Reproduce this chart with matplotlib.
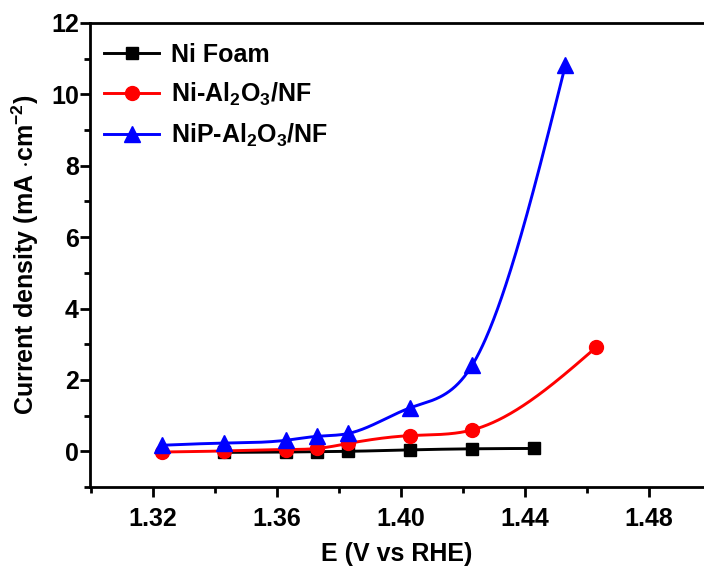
import numpy as np
import matplotlib
matplotlib.use("Agg")
import matplotlib.pyplot as plt
from matplotlib.ticker import MultipleLocator, FormatStrFormatter

plt.rcParams['font.family'] = ['Liberation Sans', 'DejaVu Sans']
plt.rcParams['font.weight'] = 'bold'
plt.rcParams['mathtext.fontset'] = 'custom'
plt.rcParams['mathtext.rm'] = 'Liberation Sans:bold'
plt.rcParams['mathtext.it'] = 'Liberation Sans:bold'
plt.rcParams['mathtext.bf'] = 'Liberation Sans:bold'
plt.rcParams['mathtext.default'] = 'rm'

# Polarization data (potential vs RHE, current density in mA/cm^2)
ni_foam_E = [1.343, 1.363, 1.373, 1.383, 1.403, 1.423, 1.443]
ni_foam_j = [-0.03, -0.02, -0.01, 0.00, 0.04, 0.07, 0.08]

ni_al2o3_E = [1.323, 1.343, 1.363, 1.373, 1.383, 1.403, 1.423, 1.463]
ni_al2o3_j = [-0.02, 0.01, 0.05, 0.08, 0.22, 0.44, 0.60, 2.92]

nip_al2o3_E = [1.323, 1.343, 1.363, 1.373, 1.383, 1.403, 1.423, 1.453]
nip_al2o3_j = [0.17, 0.23, 0.31, 0.42, 0.50, 1.22, 2.42, 10.82]

labels = ["Ni Foam", "Ni-Al$_2$O$_3$/NF", "NiP-Al$_2$O$_3$/NF"]
colors = ["black", "red", "blue"]
markers = ["s", "o", "^"]


def spline_curve(x, y, n=400):
    """Natural cubic spline through the data points."""
    x = np.asarray(x, float)
    y = np.asarray(y, float)
    m = len(x)
    h = np.diff(x)
    A = np.zeros((m, m))
    b = np.zeros(m)
    A[0, 0] = A[-1, -1] = 1.0
    for i in range(1, m - 1):
        A[i, i - 1] = h[i - 1]
        A[i, i] = 2 * (h[i - 1] + h[i])
        A[i, i + 1] = h[i]
        b[i] = 6 * ((y[i + 1] - y[i]) / h[i] - (y[i] - y[i - 1]) / h[i - 1])
    M = np.linalg.solve(A, b)
    xs = np.linspace(x[0], x[-1], n)
    idx = np.clip(np.searchsorted(x, xs) - 1, 0, m - 2)
    x0, x1 = x[idx], x[idx + 1]
    hh = x1 - x0
    t0, t1 = x1 - xs, xs - x0
    ys = (M[idx] * t0 ** 3 / (6 * hh) + M[idx + 1] * t1 ** 3 / (6 * hh)
          + (y[idx] / hh - M[idx] * hh / 6) * t0
          + (y[idx + 1] / hh - M[idx + 1] * hh / 6) * t1)
    return xs, ys


fig = plt.figure(figsize=(7.04, 5.74), dpi=100)
ax = fig.add_axes([90 / 704, 87 / 574, 614 / 704, 464 / 574])

series = [(ni_foam_E, ni_foam_j), (ni_al2o3_E, ni_al2o3_j), (nip_al2o3_E, nip_al2o3_j)]
msizes = [9, 10, 11]
for (E, j), lab, c, mk, ms in zip(series, labels, colors, markers, msizes):
    xs, ys = spline_curve(E, j)
    ax.plot(xs, ys, color=c, lw=2.1, zorder=2)
    ax.plot(E, j, linestyle='none', marker=mk, color=c, ms=ms, zorder=3)
    ax.plot([], [], color=c, lw=2.1, marker=mk, ms=ms, label=lab)

ax.set_xlim(1.2997, 1.4977)
ax.set_ylim(-1, 12)
ax.set_xticks([1.32, 1.36, 1.40, 1.44, 1.48])
ax.xaxis.set_minor_locator(MultipleLocator(0.02))
ax.xaxis.set_major_formatter(FormatStrFormatter('%.2f'))
ax.yaxis.set_major_locator(MultipleLocator(2))
ax.yaxis.set_minor_locator(MultipleLocator(1))

ax.spines['right'].set_visible(False)
for s in ['left', 'bottom', 'top']:
    ax.spines[s].set_linewidth(2.0)
ax.tick_params(which='major', direction='out', length=7, width=2.0,
               labelsize=18, top=False, right=False)
ax.tick_params(which='minor', direction='out', length=4.5, width=2.0,
               top=False, right=False)
ax.tick_params(axis='y', which='major', pad=1)
ax.tick_params(axis='x', which='major', pad=7.5)

ax.set_xlabel("E (V vs RHE)", fontsize=18, fontweight='bold', labelpad=8)
ax.set_ylabel("Current density (mA $\\cdot$cm$^{-2}$)", fontsize=18,
              fontweight='bold', labelpad=7)

leg = ax.legend(loc='upper left', bbox_to_anchor=(-0.005, 0.995), frameon=False,
                fontsize=18, handlelength=2.2, handletextpad=0.45,
                labelspacing=0.55, borderpad=0.2)

fig.savefig("out.png", dpi=100, facecolor='white')
